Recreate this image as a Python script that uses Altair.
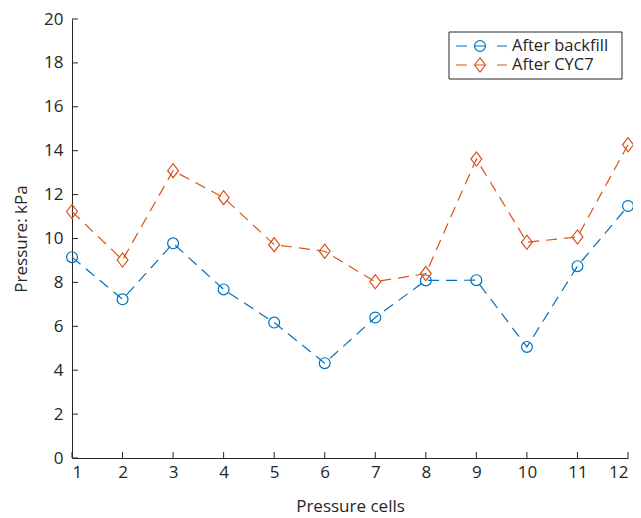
import altair as alt
import pandas as pd

cells = list(range(1, 13))
after_backfill = [9.15, 7.23, 9.78, 7.68, 6.17, 4.32, 6.40, 8.09, 8.10, 5.06, 8.74, 11.48]
after_cyc7 = [11.23, 9.02, 13.09, 11.86, 9.72, 9.42, 8.03, 8.40, 13.62, 9.83, 10.07, 14.27]
series_names = ["After backfill", "After CYC7"]
series_colors = ["#0072BD", "#D95319"]
y_ticks = list(range(0, 21, 2))
x_ticks = cells

FONT = "Open Sans"
INK = "#262626"
DIAMOND = "M0,-1.3L1,0L0,1.3L-1,0Z"
shapes = ["circle", DIAMOND]

W, H = 556, 439

df = pd.DataFrame({
    "cell": cells * 2,
    "pressure": after_backfill + after_cyc7,
    "series": [series_names[0]] * 12 + [series_names[1]] * 12,
})

xscale = alt.Scale(domain=[1, 12], nice=False, zero=False)
yscale = alt.Scale(domain=[0, 20], nice=False)
cscale = alt.Scale(domain=series_names, range=series_colors)

x_enc = alt.X("cell:Q", scale=xscale,
              axis=alt.Axis(values=x_ticks, title="Pressure cells", format="d"))
y_enc = alt.Y("pressure:Q", scale=yscale,
              axis=alt.Axis(values=y_ticks, title="Pressure: kPa", format="d"))

base = alt.Chart(df)
lines = base.mark_line(strokeDash=[11, 7], strokeWidth=1.2).encode(
    x=x_enc, y=y_enc, color=alt.Color("series:N", scale=cscale, legend=None),
    detail="series:N")
points = base.mark_point(filled=False, size=118, strokeWidth=1.2, opacity=1).encode(
    x=x_enc, y=y_enc, color=alt.Color("series:N", scale=cscale, legend=None),
    shape=alt.Shape("series:N", scale=alt.Scale(domain=series_names, range=shapes), legend=None))

# inward ticks
xt = alt.Chart(pd.DataFrame({"t": x_ticks})).mark_rule(color=INK, strokeWidth=1).encode(
    x=alt.X("t:Q", scale=xscale), y=alt.value(H), y2=alt.value(H - 6))
yt = alt.Chart(pd.DataFrame({"t": y_ticks})).mark_rule(color=INK, strokeWidth=1).encode(
    y=alt.Y("t:Q", scale=yscale), x=alt.value(0), x2=alt.value(6))

# manual legend
one = pd.DataFrame({"a": [0]})
leg_box = alt.Chart(one).mark_rect(fill="white", stroke=INK, strokeWidth=1).encode(
    x=alt.value(377), x2=alt.value(550), y=alt.value(13), y2=alt.value(60))
legend_layers = [leg_box]
for i, (name, col, shp) in enumerate(zip(series_names, series_colors, shapes)):
    ry = 27 + i * 19
    legend_layers.append(alt.Chart(one).mark_rule(color=col, strokeWidth=1.2, strokeDash=[11, 8, 10, 12, 10]).encode(
        x=alt.value(384), x2=alt.value(435), y=alt.value(ry)))
    legend_layers.append(alt.Chart(one).mark_point(shape=shp, filled=False, size=118, strokeWidth=1.2, color=col, opacity=1).encode(
        x=alt.value(408), y=alt.value(ry)))
    legend_layers.append(alt.Chart(one).mark_text(text=name, align="left", baseline="middle", fontSize=16.5, font=FONT, color=INK).encode(
        x=alt.value(440), y=alt.value(ry)))

chart = alt.layer(lines, points, xt, yt, *legend_layers).properties(
    width=W, height=H,
    autosize=alt.AutoSizeParams(type="none"),
    padding={"left": 64, "top": 11, "right": 5, "bottom": 60},
).configure_view(stroke=None).configure_axis(
    grid=False, ticks=False, domainColor=INK, domainWidth=1,
    labelFont=FONT, labelFontSize=17, labelColor=INK,
    titleFont=FONT, titleFontSize=17, titleFontWeight="normal", titleColor=INK,
).configure_axisX(labelPadding=6, titlePadding=18).configure_axisY(labelPadding=9, titlePadding=13)

chart.save("out.html", embed_options={"renderer": "svg", "actions": False})
